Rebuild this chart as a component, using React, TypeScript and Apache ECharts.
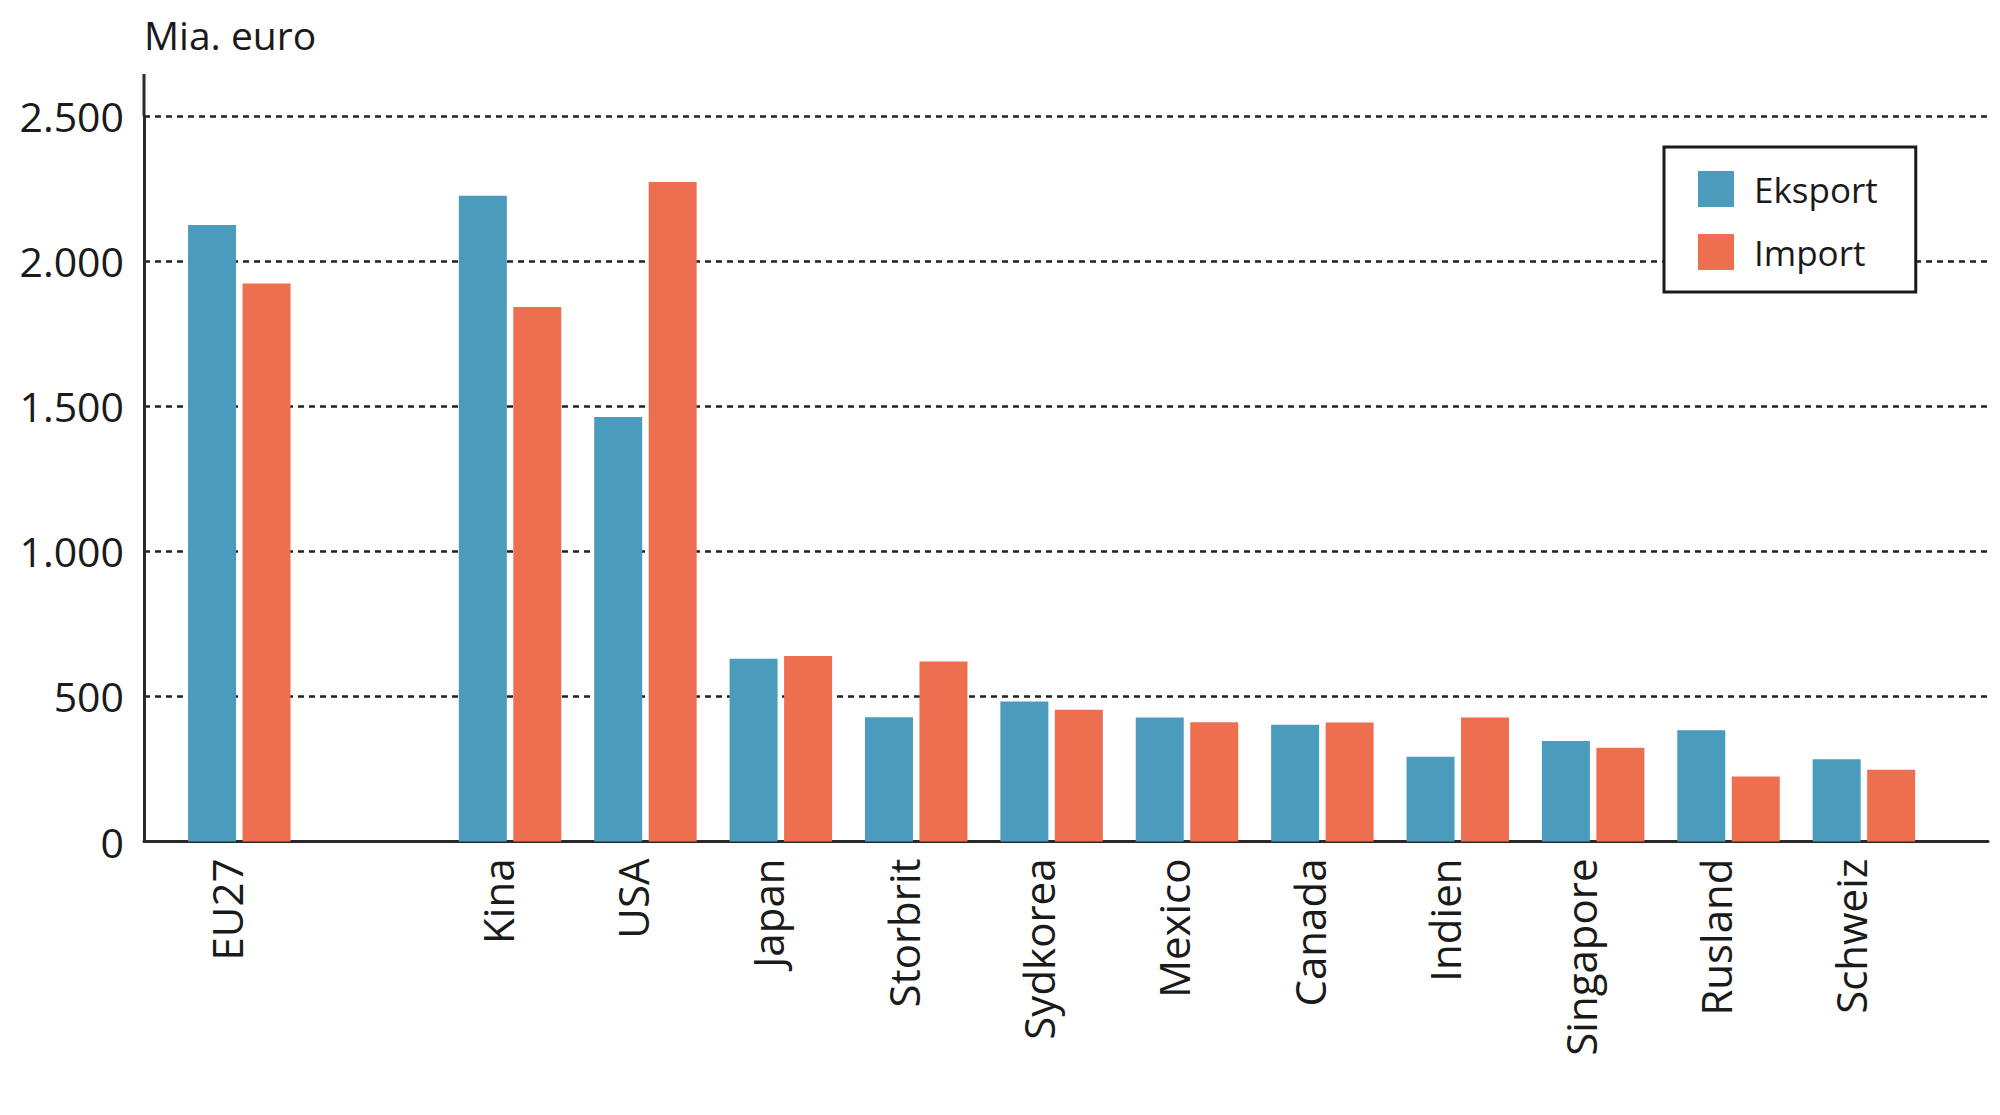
import React, { useEffect, useRef } from 'react';
import * as echarts from 'echarts';

// lande (tom plads mellem EU27 og Kina)
const categories = ['EU27', '', 'Kina', 'USA', 'Japan', 'Storbrit', 'Sydkorea', 'Mexico', 'Canada', 'Indien', 'Singapore', 'Rusland', 'Schweiz'];
// mia. euro
const eksport = [2124, null, 2225, 1463, 630, 428, 482, 427, 402, 292, 346, 383, 283];
const importVals = [1923, null, 1842, 2273, 639, 620, 454, 411, 410, 427, 323, 224, 247];

const yMin = 0;
const yMax = 2500;
const yStep = 500;
const unitLabel = 'Mia. euro';

const FONT = '"Open Sans", "Noto Sans", sans-serif';
const INK = '#1a1a1a';
const BLUE = '#4b9bbd';
const ORANGE = '#ee6f50';

const fmt = (v: number) => String(v).replace(/\B(?=(\d{3})+(?!\d))/g, '.');

const App: React.FC = () => {
  const chartRef = useRef<HTMLDivElement>(null);

  useEffect(() => {
    document.body.style.margin = '0';
    if (!chartRef.current) return;
    const chart = echarts.init(chartRef.current, undefined, { renderer: 'svg' });

    const gridTop = 116;
    const gridBottom = 273.5;

    const option = {
      animation: false,
      backgroundColor: '#fff',
      title: {
        text: unitLabel,
        left: 139,
        top: 10,
        textStyle: { fontFamily: FONT, fontSize: 39, fontWeight: 'normal', color: INK },
      },
      legend: {
        data: ['Eksport', 'Import'],
        orient: 'vertical',
        left: 1664,
        top: 147,
        z: 10,
        icon: 'rect',
        itemWidth: 36,
        itemHeight: 36,
        itemGap: 27,
        backgroundColor: '#fff',
        borderColor: INK,
        borderWidth: 3,
        padding: [24, 38, 22, 34],
        textStyle: { fontFamily: FONT, fontSize: 35, color: INK, padding: [0, 0, 0, 15] },
      },
      grid: [
        // akse-ramme og gitterlinjer
        { left: 144, right: 12, top: gridTop, bottom: gridBottom },
        // søjler
        { left: 171.6, right: 68.4, top: gridTop, bottom: gridBottom },
      ],
      xAxis: [
        {
          type: 'category',
          gridIndex: 0,
          data: [''],
          axisLine: { show: true, lineStyle: { color: '#2a2a2a', width: 3 } },
          axisTick: { show: false },
          axisLabel: { show: false },
        },
        {
          type: 'category',
          gridIndex: 1,
          data: categories,
          axisLine: { show: false },
          axisTick: { show: false },
          axisLabel: {
            rotate: 90,
            interval: 0,
            margin: 17,
            fontFamily: FONT,
            fontSize: 42,
            color: INK,
            verticalAlign: 'bottom',
            lineHeight: 26,
          },
        },
      ],
      yAxis: [
        {
          type: 'value',
          gridIndex: 0,
          min: yMin,
          max: yMax,
          interval: yStep,
          axisLine: { show: true, lineStyle: { color: '#2a2a2a', width: 3 } },
          axisTick: { show: false },
          axisLabel: {
            margin: 20,
            fontFamily: FONT,
            fontSize: 41,
            color: INK,
            formatter: (v: number) => fmt(v),
          },
          splitLine: {
            show: true,
            lineStyle: { color: '#222', width: 2.5, type: [6, 5] },
          },
        },
        {
          type: 'value',
          gridIndex: 1,
          min: yMin,
          max: yMax,
          interval: yStep,
          show: false,
          splitLine: { show: false },
        },
      ],
      graphic: [
        // y-aksen fortsætter over øverste gitterlinje
        {
          type: 'line',
          shape: { x1: 144, y1: 74, x2: 144, y2: gridTop },
          style: { stroke: '#2a2a2a', lineWidth: 3 },
        },
      ],
      series: [
        {
          name: 'Eksport',
          type: 'bar',
          xAxisIndex: 1,
          yAxisIndex: 1,
          data: eksport,
          barWidth: 48,
          barGap: '13.5%',
          itemStyle: { color: BLUE },
          z: 3,
        },
        {
          name: 'Import',
          type: 'bar',
          xAxisIndex: 1,
          yAxisIndex: 1,
          data: importVals,
          barWidth: 48,
          barGap: '13.5%',
          itemStyle: { color: ORANGE },
          z: 3,
        },
      ],
    };

    chart.setOption(option);
    return () => {
      chart.dispose();
    };
  }, []);

  return <div ref={chartRef} style={{ width: 2000, height: 1115 }} />;
};

export default App;
